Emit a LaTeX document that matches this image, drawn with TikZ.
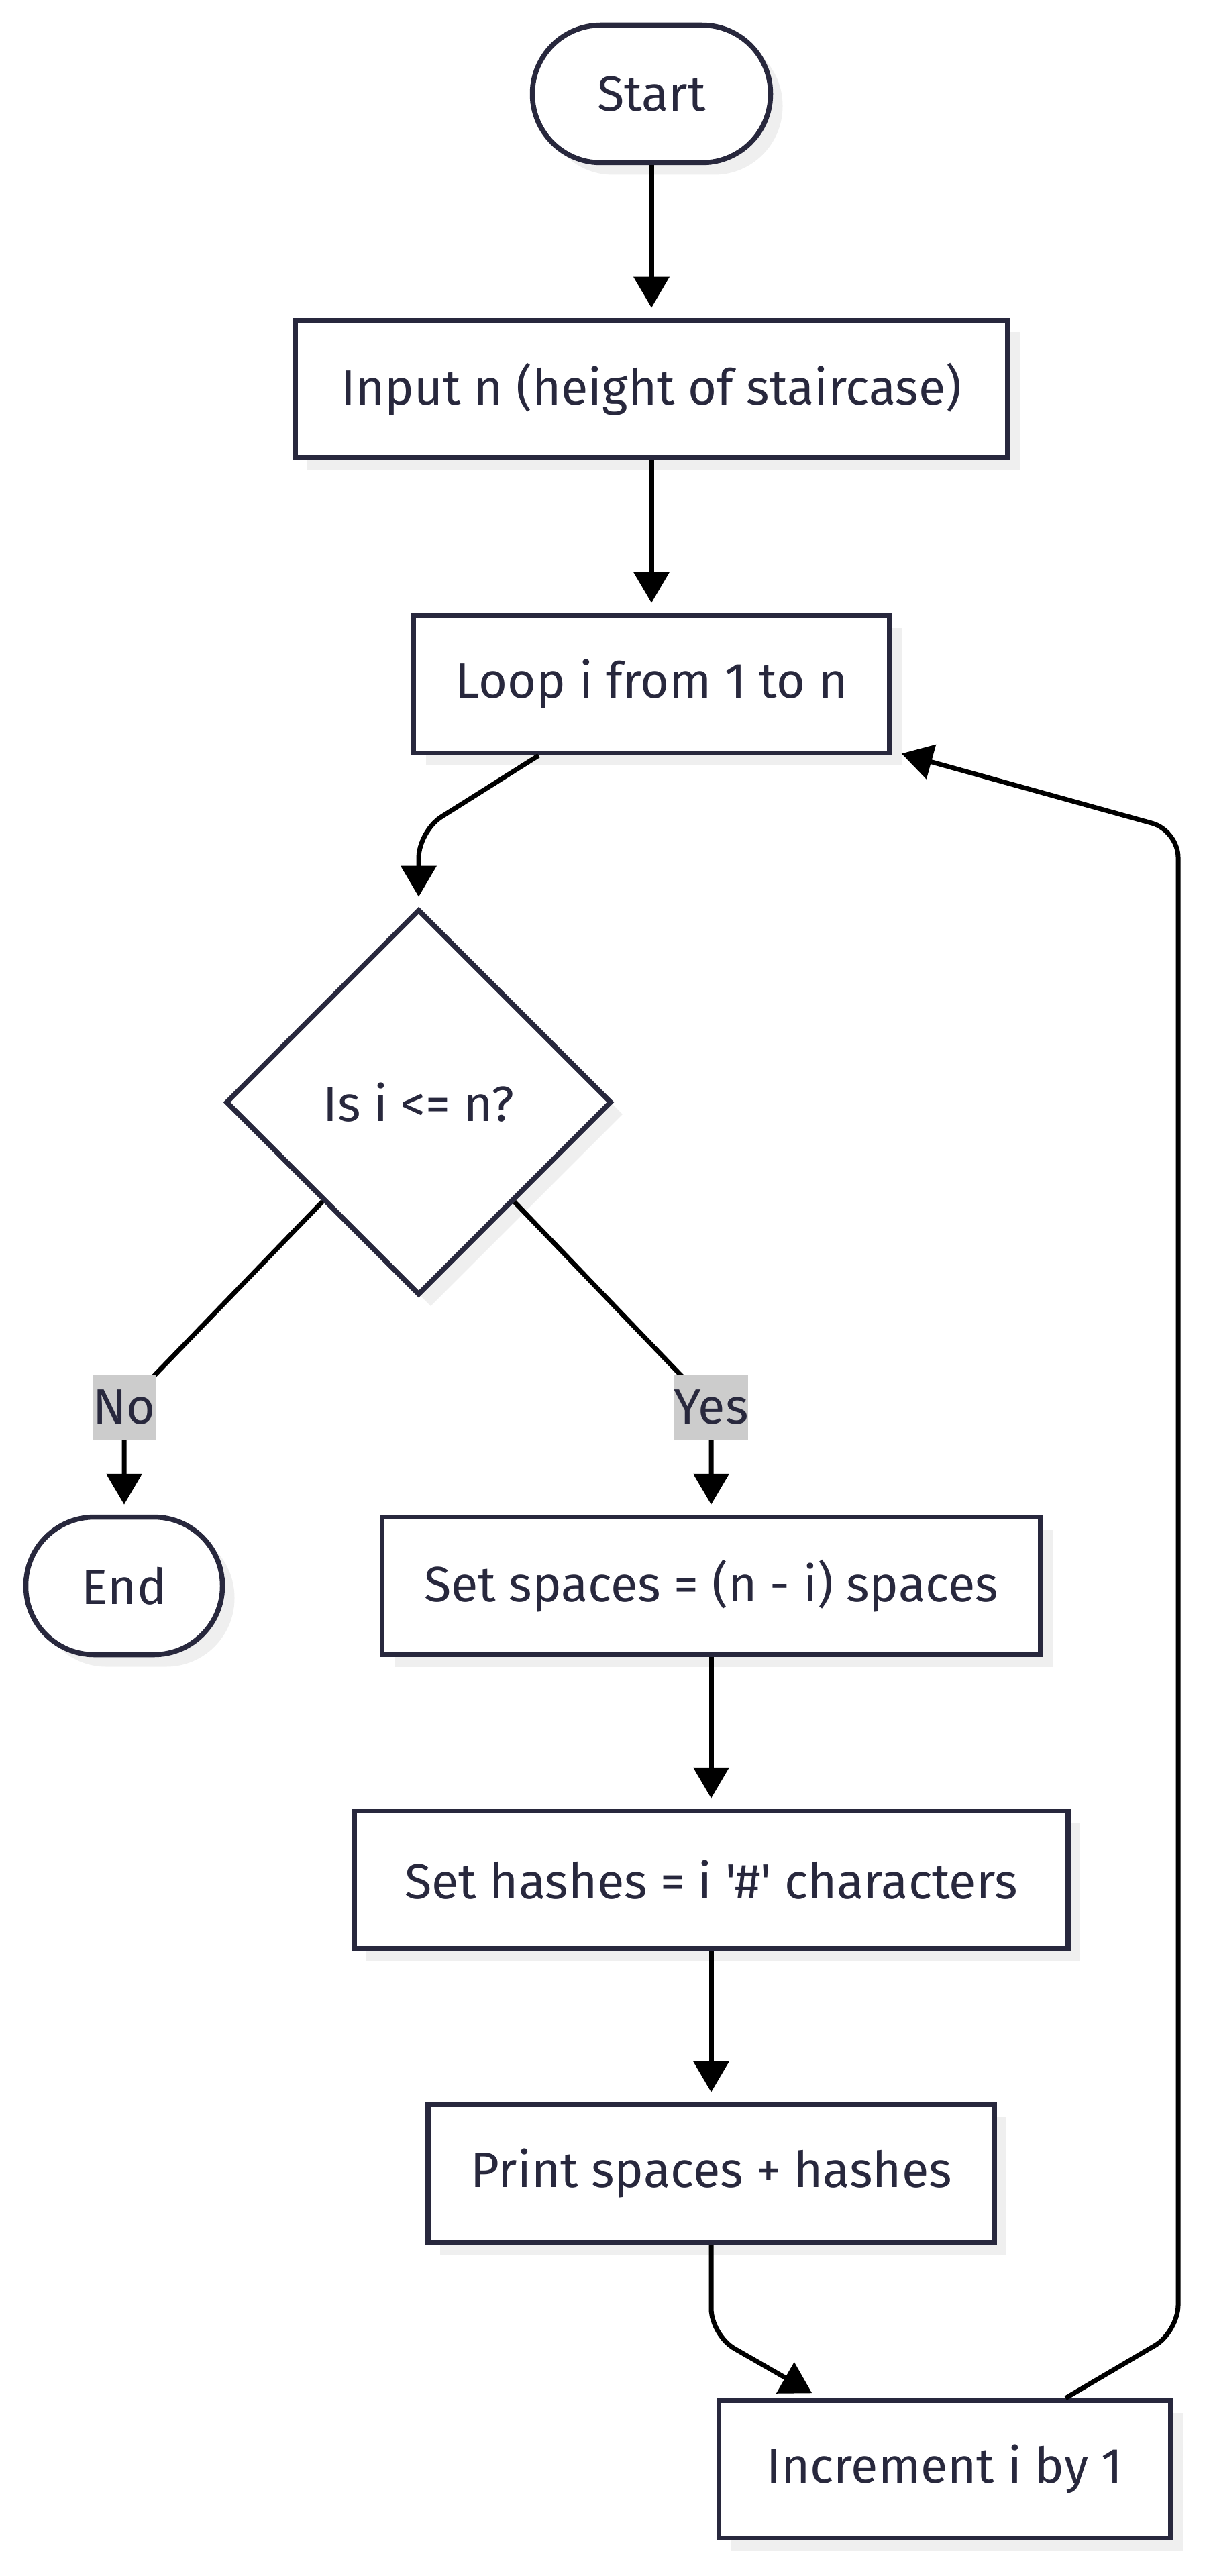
\documentclass[tikz,border=0pt]{standalone}
\usepackage{fontspec}
\setmainfont{Fira Sans}[Ligatures=TeXOff]
\usetikzlibrary{arrows.meta,shapes.geometric,shadows}
\definecolor{ink}{HTML}{28283D}
\definecolor{shade}{HTML}{EFEFEF}
\definecolor{lblgray}{HTML}{CCCCCC}
\begin{document}
\begin{tikzpicture}[font=\fontsize{21}{25}\selectfont, text=ink,
  box/.style={draw=ink, line width=0.075cm, fill=white, minimum height=2.05cm, inner sep=0pt, drop shadow={shadow xshift=0.18cm, shadow yshift=-0.18cm, fill=shade, opacity=1}},
  term/.style={box, rounded corners=1.02cm},
  decision/.style={box, diamond, minimum width=5.75cm, minimum height=5.75cm},
  flow/.style={-{Triangle[length=0.46cm, width=0.52cm]}, line width=0.07cm, black, rounded corners=0.4cm, shorten >=0.15cm},
  lbl/.style={fill=lblgray, inner xsep=0pt, inner ysep=0pt, minimum height=0.97cm}]
\useasboundingbox (0,0) rectangle (18.02,-38.40);
\node[term, minimum width=3.55cm] (start) at (9.71,-1.40) {Start};
\node[box, minimum width=10.62cm] (input) at (9.71,-5.80) {Input n (height of staircase)};
\node[box, minimum width=7.09cm] (loop) at (9.71,-10.20) {Loop i from 1 to n};
\node[decision] (check) at (6.24,-16.43) {Is i <= n?};
\node[term, minimum width=2.93cm] (stop) at (1.85,-23.64) {End};
\node[box, minimum width=9.81cm] (spaces) at (10.60,-23.64) {Set spaces = (n - i) spaces};
\node[box, minimum width=10.64cm] (hashes) at (10.60,-28.02) {Set hashes = i '\#' characters};
\node[box, minimum width=8.44cm] (print) at (10.60,-32.40) {Print spaces + hashes};
\node[box, minimum width=6.73cm] (incr) at (14.08,-36.81) {Increment i by 1};
\coordinate (loopbend) at (6.24,-12.39);
\coordinate (nobend) at (1.85,-20.97);
\coordinate (yesbend) at (10.60,-20.97);
\coordinate (printbend) at (10.60,-34.81);
\coordinate (backlow) at (17.56,-34.76);
\coordinate (backhigh) at (17.56,-12.38);
\draw[flow] (start) -- (input);
\draw[flow] (input) -- (loop);
\draw[flow] (loop) -- (loopbend) -- (check);
\draw[flow] (check) -- (nobend) -- (stop);
\draw[flow] (check) -- (yesbend) -- (spaces);
\draw[flow] (spaces) -- (hashes);
\draw[flow] (hashes) -- (print);
\draw[flow] (print) -- (printbend) -- (incr);
\draw[flow] (incr) -- (backlow) -- (backhigh) -- (loop);
\node[lbl] (nolbl) at (nobend) {No};
\node[lbl] (yeslbl) at (yesbend) {Yes};
\end{tikzpicture}
\end{document}
